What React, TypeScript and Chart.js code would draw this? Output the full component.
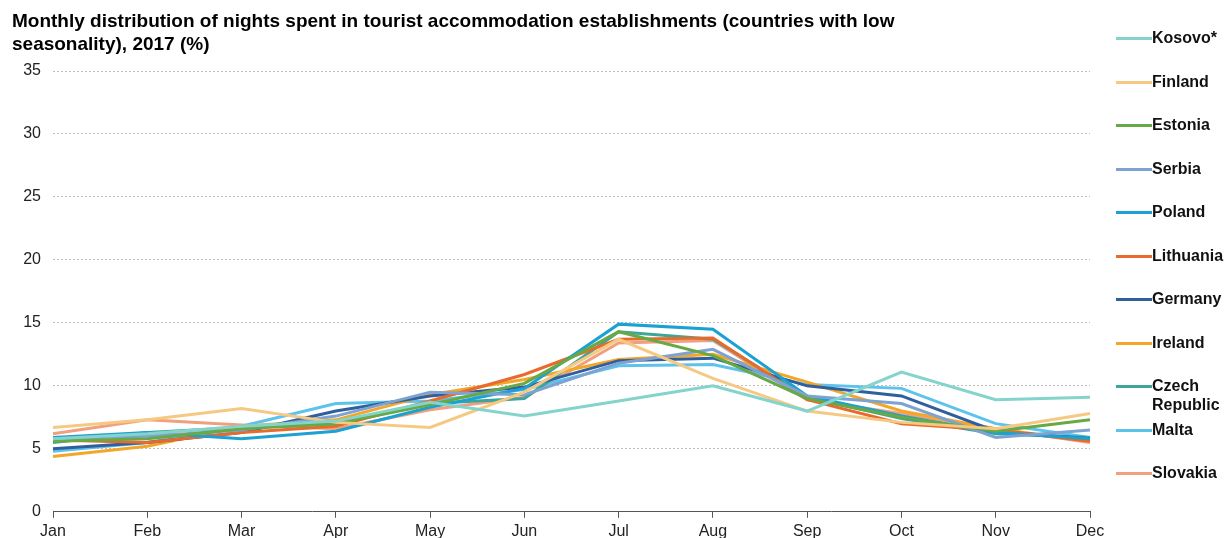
import React, { useEffect, useRef } from "react";
import { Chart, registerables } from "chart.js";

Chart.register(...registerables);

const months = ["Jan", "Feb", "Mar", "Apr", "May", "Jun", "Jul", "Aug", "Sep", "Oct", "Nov", "Dec"];
const yTicks = [0, 5, 10, 15, 20, 25, 30, 35];

const countries = ["Kosovo*", "Finland", "Estonia", "Serbia", "Poland", "Lithuania", "Germany", "Ireland", "Czech Republic", "Malta", "Slovakia"];
const colors = ["#84d4cd", "#f6c983", "#68a845", "#7ea3d3", "#1ba1d2", "#e86a2d", "#2f5f9c", "#f4a628", "#3aa79a", "#5dc3ec", "#f0a07f"];

const kosovo = [5.8, 6.2, 6.8, 7.2, 8.7, 7.6, 8.8, 10.0, 8.0, 11.1, 8.9, 9.1];
const finland = [6.7, 7.3, 8.2, 7.1, 6.7, 9.5, 13.7, 10.6, 8.0, 7.1, 6.6, 7.8];
const estonia = [5.6, 5.8, 6.6, 7.0, 8.5, 10.2, 14.3, 12.4, 9.0, 7.5, 6.4, 7.3];
const serbia = [5.8, 6.0, 6.5, 7.6, 9.5, 9.3, 11.8, 12.9, 9.2, 8.6, 5.9, 6.5];
const poland = [5.9, 6.3, 5.8, 6.4, 8.3, 9.8, 14.9, 14.5, 9.2, 7.6, 6.3, 5.8];
const lithuania = [5.7, 5.5, 6.3, 6.8, 8.8, 10.9, 13.7, 13.8, 8.9, 7.0, 6.5, 5.6];
const germany = [5.0, 5.5, 6.3, 8.0, 9.2, 9.9, 12.0, 12.2, 10.0, 9.2, 6.4, 5.8];
const ireland = [4.4, 5.2, 6.8, 7.3, 9.3, 10.5, 12.1, 12.5, 10.3, 8.0, 6.6, 5.6];
const czech = [5.5, 6.3, 6.7, 7.0, 8.6, 9.0, 14.3, 13.7, 9.1, 7.4, 6.2, 5.9];
const malta = [4.8, 5.5, 6.8, 8.6, 8.8, 9.7, 11.6, 11.7, 10.1, 9.8, 7.0, 5.9];
const slovakia = [6.2, 7.3, 6.9, 6.6, 8.1, 9.1, 13.4, 13.6, 8.9, 7.8, 6.6, 5.5];

const series = [kosovo, finland, estonia, serbia, poland, lithuania, germany, ireland, czech, malta, slovakia];

const titleLines = [
  "Monthly distribution of nights spent in tourist accommodation establishments (countries with low",
  "seasonality), 2017 (%)",
];

const FONT = "'Liberation Sans', Arial, sans-serif";

export default function App() {
  const ref = useRef<HTMLCanvasElement | null>(null);

  useEffect(() => {
    document.body.style.margin = "0";
    if (!ref.current) return;
    const chart = new Chart(ref.current, {
      type: "line",
      data: {
        labels: months,
        datasets: series.map((d, i) => ({
          label: countries[i],
          data: d,
          borderColor: colors[i],
          backgroundColor: colors[i],
          borderWidth: 3,
          pointRadius: 0,
          tension: 0,
          fill: false,
        })),
      },
      options: {
        animation: false,
        responsive: false,
        maintainAspectRatio: false,
        layout: { padding: { left: 0, right: 138, top: 71, bottom: 0 } },
        plugins: {
          legend: { display: false },
          tooltip: { enabled: false },
          title: { display: false },
        },
        scales: {
          x: {
            offset: false,
            grid: { display: true, drawOnChartArea: false, drawTicks: true, tickLength: 6, color: "#555" },
            border: { display: true, color: "#555", width: 1 },
            ticks: { color: "#222", font: { family: FONT, size: 16 }, padding: 4, maxRotation: 0, autoSkip: false },
          },
          y: {
            min: 0,
            max: 35,
            afterBuildTicks: (axis: any) => {
              axis.ticks = yTicks.map((v) => ({ value: v }));
            },
            afterFit: (axis: any) => {
              axis.width = 53;
            },
            grid: { color: "#bdbdbd", drawTicks: false, lineWidth: 1 },
            border: { display: false, dash: [2, 2] },
            ticks: { color: "#222", font: { family: FONT, size: 16 }, padding: 12 },
          },
        },
      },
    });
    return () => chart.destroy();
  }, []);

  return (
    <div style={{ position: "relative", width: 1228, height: 538, overflow: "hidden", fontFamily: FONT }}>
      <canvas ref={ref} width={1228} height={545} style={{ display: "block" }} />
      <div style={{ position: "absolute", left: 12, top: 9, fontWeight: "bold", fontSize: 19, lineHeight: "23px", color: "#000", whiteSpace: "nowrap" }}>
        {titleLines.map((l) => (
          <div key={l}>{l}</div>
        ))}
      </div>
      <div style={{ position: "absolute", left: 1116, top: 0 }}>
        {countries.map((c, i) => {
          const lines = c === "Czech Republic" ? ["Czech", "Republic"] : [c];
          return (
            <div key={c} style={{ position: "absolute", left: 0, top: 38 + i * 43.5 - 10, width: 112, display: "flex", alignItems: "flex-start" }}>
              <div style={{ width: 36, height: 3, marginTop: 9, background: colors[i], flex: "0 0 auto" }} />
              <div style={{ fontWeight: "bold", fontSize: 16, lineHeight: "19px", color: "#111", whiteSpace: "nowrap" }}>
                {lines.map((l) => (
                  <div key={l}>{l}</div>
                ))}
              </div>
            </div>
          );
        })}
      </div>
    </div>
  );
}
